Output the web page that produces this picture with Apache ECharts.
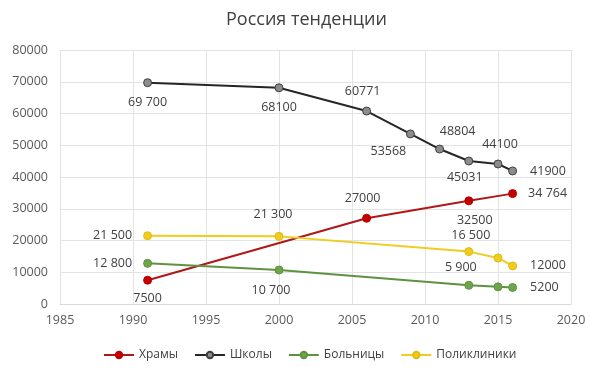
<!DOCTYPE html>
<html><head><meta charset="utf-8">
<script src="https://cdn.jsdelivr.net/npm/echarts@6/dist/echarts.min.js"></script>
<style>html,body{margin:0;padding:0;background:#fff}#c{width:590px;height:384px}</style>
</head><body><div id="c"></div>
<script>
var title = 'Россия тенденции';
var seriesNames = ['Храмы', 'Школы', 'Больницы', 'Поликлиники'];
var xTicks = [1985, 1990, 1995, 2000, 2005, 2010, 2015, 2020];
var yTicks = [0, 10000, 20000, 30000, 40000, 50000, 60000, 70000, 80000];

var templesYears = [1991, 2006, 2013, 2016];
var templesValues = [7500, 27000, 32500, 34764];
var templesLabels = ['7500', '27000', '32500', '34 764'];

var schoolsYears = [1991, 2000, 2006, 2009, 2011, 2013, 2015, 2016];
var schoolsValues = [69700, 68100, 60771, 53568, 48804, 45031, 44100, 41900];
var schoolsLabels = ['69 700', '68100', '60771', '53568', '48804', '45031', '44100', '41900'];

var hospitalsYears = [1991, 2000, 2013, 2015, 2016];
var hospitalsValues = [12800, 10700, 5900, 5400, 5200];
var hospitalsLabels = ['12 800', '10 700', '5 900', '', '5200'];

var clinicsYears = [1991, 2000, 2013, 2015, 2016];
var clinicsValues = [21500, 21300, 16500, 14500, 12000];
var clinicsLabels = ['21 500', '21 300', '16 500', '', '12000'];

// label placement (style)
var placement = {
  'Храмы': [['bottom',[0,2]], ['top',[-4,-4]], ['bottom',[6,4]], ['right',[6,0]]],
  'Школы': [['bottom',[0,4]], ['bottom',[0,4]], ['top',[-4,-4]], ['bottom',[-22,2]], ['top',[18,-2]], ['bottom',[-4,0]], ['top',[2,-4]], ['right',[8,0]]],
  'Больницы': [['left',[-6,0]], ['bottom',[-8,4]], ['top',[-8,-2]], ['right',[0,0]], ['right',[8,0]]],
  'Поликлиники': [['left',[-6,0]], ['top',[-6,-6]], ['top',[2,0]], ['right',[0,0]], ['right',[8,0]]]
};

function build(name, years, vals, labels, color, lineColor, markerBorder) {
  var pl = placement[name];
  var data = years.map(function (y, i) {
    return {
      value: [y, vals[i]],
      label: { show: labels[i] !== '', position: pl[i][0], offset: pl[i][1], formatter: labels[i] }
    };
  });
  return {
    name: name, type: 'line', data: data,
    symbol: 'circle', symbolSize: 8,
    lineStyle: { color: lineColor, width: 2 },
    itemStyle: { color: color, borderColor: markerBorder, borderWidth: 1 },
    label: { color: '#404040', fontSize: 12.5, fontFamily: 'Open Sans' },
    emphasis: { disabled: true },
    z: 3
  };
}

var chart = echarts.init(document.getElementById('c'), null, { renderer: 'canvas' });
chart.setOption({
  animation: false,
  backgroundColor: '#fff',
  textStyle: { fontFamily: 'Open Sans' },
  title: { text: title, left: 221, top: 6, textStyle: { fontSize: 18, fontWeight: 'normal', color: '#404040', fontFamily: 'Open Sans' } },
  grid: { left: 60, right: 19, top: 50, bottom: 80, containLabel: false },
  legend: {
    bottom: 18, left: 98, itemWidth: 30, itemHeight: 8, itemGap: 16,
    textStyle: { color: '#404040', fontSize: 12, fontFamily: 'Open Sans' },
    data: seriesNames
  },
  xAxis: {
    type: 'value', min: xTicks[0], max: xTicks[xTicks.length - 1], interval: 5,
    axisLine: { show: true, lineStyle: { color: '#d9d9d9' } },
    axisTick: { show: false },
    axisLabel: { color: '#595959', fontSize: 12.5, margin: 10, formatter: function (v) { return String(v); } },
    splitLine: { show: true, lineStyle: { color: '#e3e3e3' } }
  },
  yAxis: {
    type: 'value', min: yTicks[0], max: yTicks[yTicks.length - 1], interval: 10000,
    axisLine: { show: false }, axisTick: { show: false },
    axisLabel: { color: '#595959', fontSize: 12.5, margin: 12, formatter: function (v) { return String(v); } },
    splitLine: { show: true, lineStyle: { color: '#e3e3e3' } }
  },
  series: [
    build('Храмы', templesYears, templesValues, templesLabels, '#c00000', '#b01818', '#c00000'),
    build('Школы', schoolsYears, schoolsValues, schoolsLabels, '#8c8c8c', '#262626', '#404040'),
    build('Больницы', hospitalsYears, hospitalsValues, hospitalsLabels, '#70a44a', '#5f9240', '#5f9240'),
    build('Поликлиники', clinicsYears, clinicsValues, clinicsLabels, '#f0cc1e', '#f0cc1e', '#e0bc10')
  ]
});
</script>
</body></html>
